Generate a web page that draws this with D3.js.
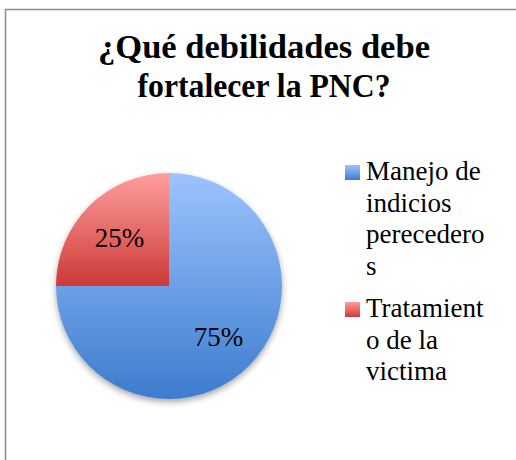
<!DOCTYPE html>
<html>
<head>
<meta charset="utf-8">
<script src="https://cdn.jsdelivr.net/npm/d3@7"></script>
<style>
  body { margin: 0; background: #fff; }
  svg text { font-family: "Liberation Serif", "DejaVu Serif", serif; }
</style>
</head>
<body>
<div class="graph"></div>
<script>
// chart data
var categories = ["Manejo de indicios perecederos", "Tratamiento de la victima"];
var values = [75, 25];
var legendLines = [["Manejo de", "indicios", "perecedero", "s"], ["Tratamient", "o de la", "victima"]];
var titleLines = ["¿Qué debilidades debe", "fortalecer la PNC?"];
var colorsTop = ["#9dc3ff", "#ff9e9c"];
var colorsBottom = ["#3d7ccd", "#cc3a37"];

var width = 516, height = 460;
var cx = 169, cy = 286, radius = 113;
var titleWidths = [332, 253];  // line widths of the title as in the picture

var svg = d3.select(".graph").append("svg")
    .attr("width", width)
    .attr("height", height);

var defs = svg.append("defs");

// gradients for each slice, light on top, dark at the bottom
categories.forEach(function(c, i) {
    var g = defs.append("linearGradient")
        .attr("id", "grad" + i)
        .attr("x1", 0).attr("y1", 0).attr("x2", 0).attr("y2", 1);
    g.append("stop").attr("offset", "0%").attr("stop-color", colorsTop[i]);
    g.append("stop").attr("offset", "100%").attr("stop-color", colorsBottom[i]);
});

var shadow = defs.append("filter").attr("id", "shadow")
    .attr("x", "-20%").attr("y", "-20%").attr("width", "140%").attr("height", "140%");
shadow.append("feDropShadow")
    .attr("dx", 0).attr("dy", 3).attr("stdDeviation", 3)
    .attr("flood-color", "#000").attr("flood-opacity", 0.35);

// chart frame (runs off the right and bottom of the window)
svg.append("rect")
    .attr("x", 5.5).attr("y", 9.5)
    .attr("width", 530).attr("height", 480)
    .attr("fill", "#fff")
    .attr("stroke", "#8c8c8c")
    .attr("stroke-width", 1.5);

// title
svg.append("text")
    .attr("text-anchor", "middle")
    .attr("font-weight", "bold")
    .attr("font-size", "33px")
    .selectAll("tspan")
    .data(titleLines)
    .enter()
    .append("tspan")
    .attr("x", 264)
    .attr("y", function(d, i) { return 58 + i * 39; })
    .attr("textLength", function(d, i) { return titleWidths[i]; })
    .attr("lengthAdjust", "spacingAndGlyphs")
    .text(function(d) { return d; });

// pie
var pie = d3.pie().sort(null).value(function(d) { return d; });
var arc = d3.arc().innerRadius(0).outerRadius(radius);
var labelArc = d3.arc().innerRadius(radius * 0.62).outerRadius(radius * 0.62);

var pieG = svg.append("g")
    .attr("transform", "translate(" + cx + "," + cy + ")");

pieG.append("g")
    .attr("filter", "url(#shadow)")
    .selectAll("path")
    .data(pie(values))
    .enter()
    .append("path")
    .attr("d", arc)
    .attr("fill", function(d, i) { return "url(#grad" + i + ")"; });

pieG.selectAll(".label")
    .data(pie(values))
    .enter()
    .append("text")
    .attr("class", "label")
    .attr("transform", function(d) { return "translate(" + labelArc.centroid(d) + ")"; })
    .attr("text-anchor", "middle")
    .attr("dy", "0.4em")
    .attr("font-size", "27px")
    .attr("fill", "#000")
    .text(function(d) { return d.value + "%"; });

// legend
var legend = svg.selectAll(".legend")
    .data(categories)
    .enter()
    .append("g")
    .attr("class", "legend")
    .attr("transform", function(d, i) { return "translate(345," + (i === 0 ? 180 : 317) + ")"; });

legend.append("rect")
    .attr("y", -15)
    .attr("width", 15).attr("height", 15)
    .attr("fill", function(d, i) { return "url(#grad" + i + ")"; });

legend.append("text")
    .attr("font-size", "27px")
    .attr("fill", "#000")
    .selectAll("tspan")
    .data(function(d, i) { return legendLines[i]; })
    .enter()
    .append("tspan")
    .attr("x", 21)
    .attr("y", function(d, i) { return i * 31.5; })
    .text(function(d) { return d; });
</script>
</body>
</html>
